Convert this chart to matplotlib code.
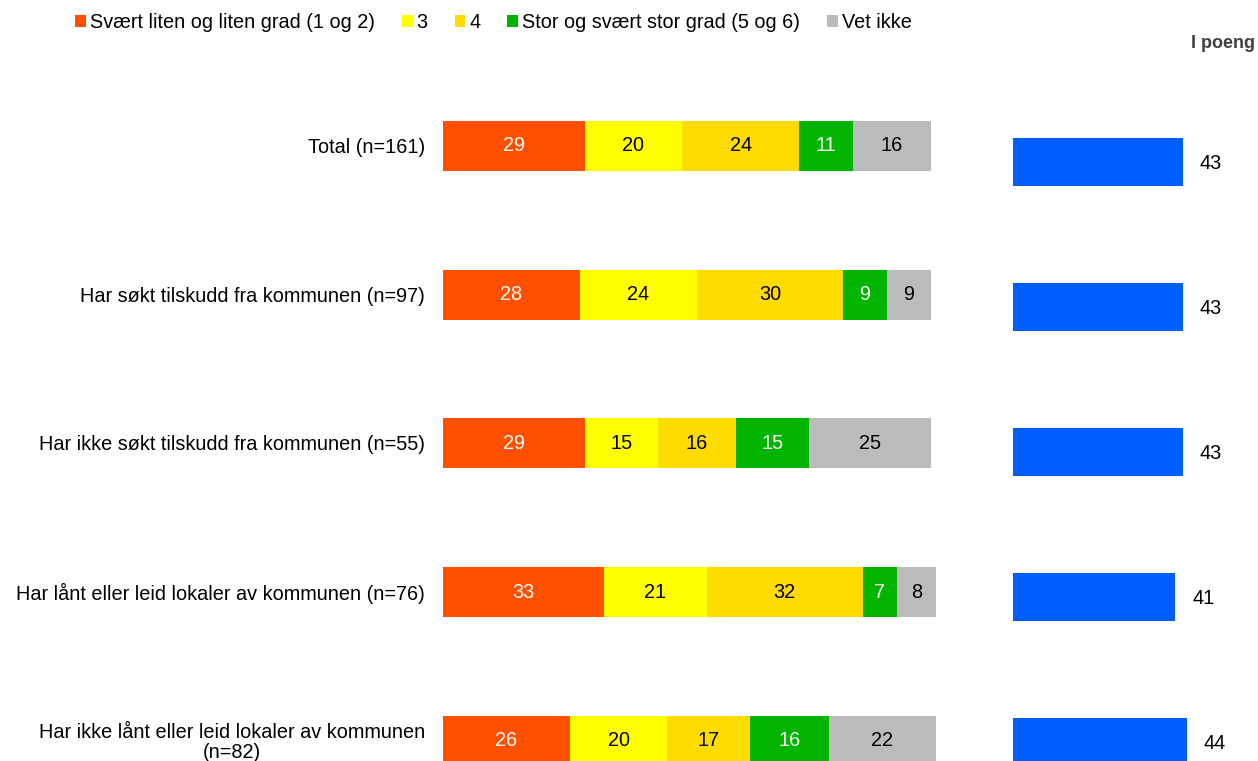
import numpy as np
import matplotlib.pyplot as plt
from matplotlib.patches import Patch

plt.rcParams['font.family'] = ['Liberation Sans', 'DejaVu Sans']

# data
categories = ['Total (n=161)',
              'Har søkt tilskudd fra kommunen (n=97)',
              'Har ikke søkt tilskudd fra kommunen (n=55)',
              'Har lånt eller leid lokaler av kommunen (n=76)',
              'Har ikke lånt eller leid lokaler av kommunen\n(n=82)']
series_names = ['Svært liten og liten grad (1 og 2)', '3', '4',
                'Stor og svært stor grad (5 og 6)', 'Vet ikke']
low = [29, 28, 29, 33, 26]
three = [20, 24, 15, 21, 20]
four = [24, 30, 16, 32, 17]
high = [11, 9, 15, 7, 16]
dont_know = [16, 9, 25, 8, 22]
points = [43, 43, 43, 41, 44]

colors = ['#FF5000', '#FFFF00', '#FFDC00', '#00B400', '#BBBBBB']
text_colors = ['white', 'black', 'black', 'white', 'black']
blue = '#005EFF'
fs = 14.3

W, H = 1258, 761
fig = plt.figure(figsize=(W / 100, H / 100), dpi=100)

# stacked bars (left)
ax1 = fig.add_axes([443 / W, 0, 488 / W, 1])
ypos = np.arange(len(categories))
step1 = 148.75
ax1.set_ylim((H - 146) / step1, -146 / step1)
ax1.set_xlim(0, 100)
left = np.zeros(len(categories))
for vals, col, tcol in zip([low, three, four, high, dont_know], colors, text_colors):
    vals = np.array(vals)
    ax1.barh(ypos, vals, left=left, height=50 / step1, color=col,
             linewidth=0, clip_on=False)
    for y, l, v in zip(ypos, left, vals):
        ax1.text(l + v / 2, y, str(v), ha='center', va='center',
                 color=tcol, fontsize=fs, clip_on=False)
    left += vals
ax1.axis('off')
for y, c in zip(ypos, categories):
    ax1.text(-3.7, y + 0.01, c, ha='right', va='center', multialignment='center',
             fontsize=fs, color='black', linespacing=1.1)

# points (right)
ax2 = fig.add_axes([1013 / W, 0, (W - 1013) / W, 1])
step2 = 145
ax2.set_ylim((H - 162) / step2, -162 / step2)
ax2.set_xlim(0, (W - 1013) / 3.96)
ax2.barh(ypos, points, height=48 / step2, color=blue, linewidth=0)
for y, p in zip(ypos, points):
    ax2.annotate(str(p), (p, y), xytext=(12.0, -1), textcoords='offset points',
                 ha='left', va='center', fontsize=fs)
ax2.axis('off')

fig.text(1255 / W, 1 - 43 / H, 'I poeng', ha='right', va='center',
         fontsize=13, fontweight='bold', color='#404040')

handles = [Patch(facecolor=c, edgecolor='none') for c in colors]
fig.legend(handles, series_names, loc='center left',
           bbox_to_anchor=(75 / W, 1 - 23 / H), ncol=5, frameon=False,
           fontsize=fs, handlelength=0.55, handleheight=0.55,
           handletextpad=0.2, columnspacing=1.35, borderpad=0, borderaxespad=0)

fig.savefig('out.png', dpi=100)
